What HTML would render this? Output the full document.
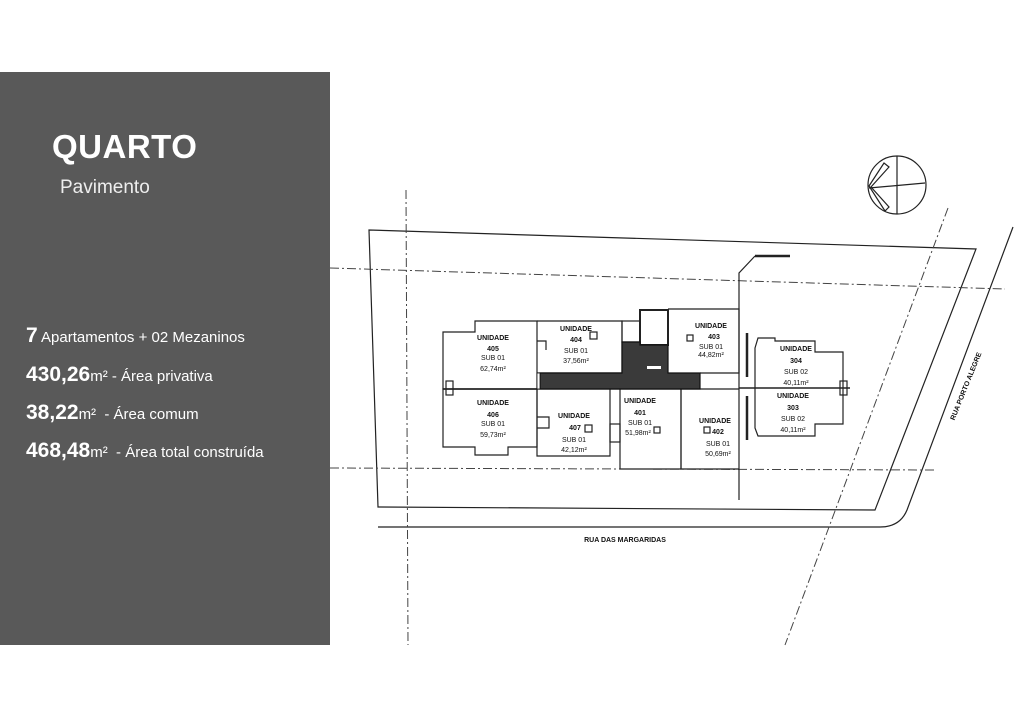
<!DOCTYPE html>
<html><head><meta charset="utf-8"><style>
html,body{margin:0;padding:0;background:#fff;}
body{width:1014px;height:719px;position:relative;overflow:hidden;font-family:"Liberation Sans",sans-serif;}
.panel{position:absolute;left:0;top:72px;width:330px;height:573px;background:#595959;color:#fff;}
.t{position:absolute;white-space:nowrap;}
</style></head><body>
<div class="panel">
<div class="t" style="left:52px;top:56px;font-size:33px;font-weight:bold;letter-spacing:0.5px;">QUARTO</div>
<div class="t" style="left:60px;top:105px;font-size:19px;color:#eee;">Pavimento</div>
<div class="t" style="left:26px;top:252px;font-size:15px;"><b style="font-size:21px">7</b> Apartamentos + 02 Mezaninos</div>
<div class="t" style="left:26px;top:291px;font-size:15px;"><b style="font-size:21px">430,26</b>m² - Área privativa</div>
<div class="t" style="left:26px;top:329px;font-size:15px;"><b style="font-size:21px">38,22</b>m²&nbsp; - Área comum</div>
<div class="t" style="left:26px;top:367px;font-size:15px;"><b style="font-size:21px">468,48</b>m²&nbsp; - Área total construída</div>
</div>
<svg width="1014" height="719" style="position:absolute;left:0;top:0" font-family="Liberation Sans, sans-serif">
<g fill="none" stroke="#222" stroke-width="1.2">
<polygon points="369,230 976,249 875,510 378,507"/>
<path d="M378,527 L880,527 Q900,527 907,510 L1013,227"/>
<g stroke-dasharray="9,3,2,3" stroke-width="1" stroke="#444">
<line x1="330" y1="268" x2="1005" y2="289"/>
<line x1="330" y1="468" x2="935" y2="470"/>
<line x1="406" y1="190" x2="408" y2="645"/>
<line x1="948" y1="208" x2="785" y2="645"/>
</g>
<path d="M739,500 L739,273 L755,256"/>
<line x1="755" y1="256" x2="790" y2="256" stroke-width="2.5"/>
<circle cx="897" cy="185" r="29"/>
<line x1="897" y1="156" x2="897" y2="214"/>
<line x1="869" y1="188" x2="925" y2="183"/>
<path d="M869,186 L884,163 L889,167 L871,187 L889,207 L885,211 Z"/>
<path d="M443,332 L475,332 L475,321 L537,321 L537,389 L443,389 Z"/>
<path d="M537,321 L622,321 L622,373 L537,373"/>
<path d="M537,341 L546,341 L546,350"/>
<path d="M668,309 L739,309 L739,373 L700,373"/>
<rect x="622" y="321" width="18" height="21"/>
<rect x="640" y="310" width="28" height="35" stroke-width="2"/>
<path d="M443,389 L537,389 L537,447 L508,447 L508,455 L475,455 L475,447 L443,447 Z"/>
<path d="M537,389 L610,389 L610,456 L537,456 Z"/>
<path d="M537,417 L549,417 L549,428 L537,428"/>
<path d="M610,389 L681,389 L681,469 L620,469 L620,389"/>
<rect x="610" y="424" width="10" height="18"/>
<path d="M681,389 L739,389 M681,389 L681,469 L739,469"/>
<path d="M755,348 L758,338 L775,338 L775,341 L815,341 L815,352 L843,352 L843,424 L815,424 L815,436 L758,436 L755,428 Z"/>
<line x1="739" y1="388" x2="850" y2="388" stroke-width="1.5"/>
<line x1="443" y1="389" x2="537" y2="389" stroke-width="1.5"/>
<rect x="840" y="381" width="7" height="14"/>
<rect x="446" y="381" width="7" height="14"/>
<line x1="747" y1="333" x2="747" y2="377" stroke-width="2.5"/>
<line x1="747" y1="396" x2="747" y2="440" stroke-width="2.5"/>
<rect x="590" y="332" width="7" height="7"/><rect x="585" y="425" width="7" height="7"/>
<rect x="654" y="427" width="6" height="6"/><rect x="687" y="335" width="6" height="6"/>
<rect x="704" y="427" width="6" height="6"/>
</g>
<path d="M540,373 L622,373 L622,342 L640,342 L640,345 L668,345 L668,373 L700,373 L700,389 L540,389 Z" fill="#3a3a3a" stroke="#111" stroke-width="1.2"/>
<rect x="647" y="366" width="14" height="3" fill="#fff"/>
<rect x="537" y="373" width="3" height="16" fill="#fff" stroke="#111" stroke-width="0.8"/>
<g font-size="7" fill="#111" text-anchor="middle">
<g font-weight="bold"><text x="493" y="340">UNIDADE</text><text x="493" y="351">405</text>
<text x="576" y="331">UNIDADE</text><text x="576" y="342">404</text>
<text x="711" y="328">UNIDADE</text><text x="714" y="339">403</text>
<text x="493" y="405">UNIDADE</text><text x="493" y="417">406</text>
<text x="574" y="418">UNIDADE</text><text x="575" y="430">407</text>
<text x="640" y="403">UNIDADE</text><text x="640" y="415">401</text>
<text x="715" y="423">UNIDADE</text><text x="718" y="434">402</text>
<text x="796" y="351">UNIDADE</text><text x="796" y="363">304</text>
<text x="793" y="398">UNIDADE</text><text x="793" y="410">303</text></g>
<text x="493" y="360">SUB 01</text><text x="493" y="371">62,74m²</text>
<text x="576" y="353">SUB 01</text><text x="576" y="363">37,56m²</text>
<text x="711" y="349">SUB 01</text><text x="711" y="357">44,82m²</text>
<text x="493" y="426">SUB 01</text><text x="493" y="437">59,73m²</text>
<text x="574" y="442">SUB 01</text><text x="574" y="452">42,12m²</text>
<text x="640" y="425">SUB 01</text><text x="638" y="435">51,98m²</text>
<text x="718" y="446">SUB 01</text><text x="718" y="456">50,69m²</text>
<text x="796" y="374">SUB 02</text><text x="796" y="385">40,11m²</text>
<text x="793" y="421">SUB 02</text><text x="793" y="432">40,11m²</text>
<text x="625" y="542" font-weight="bold">RUA DAS MARGARIDAS</text>
<text x="0" y="0" font-weight="bold" transform="translate(968,387) rotate(-68)">RUA PORTO ALEGRE</text>
</g>
</svg>
</body></html>
